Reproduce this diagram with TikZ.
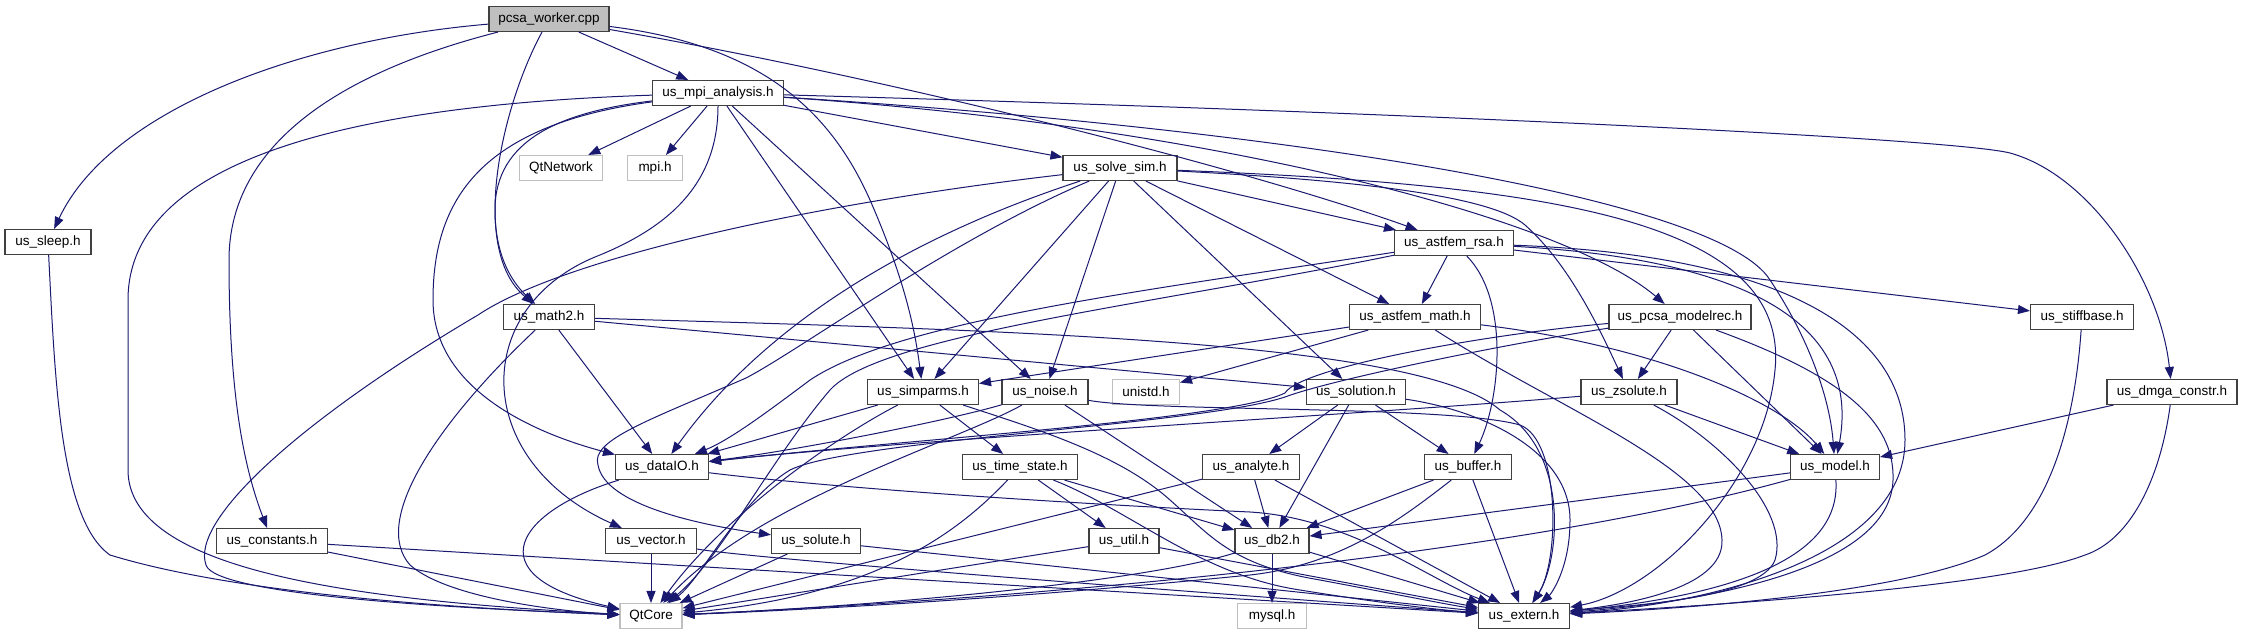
\documentclass[tikz,border=0pt]{standalone}
\usepackage{fontspec}
\setmainfont{Liberation Sans}
\usetikzlibrary{arrows.meta}
\definecolor{edgec}{HTML}{191970}
\definecolor{boxc}{HTML}{404040}
\definecolor{extc}{HTML}{BFBFBF}
\begin{document}
\begin{tikzpicture}[x=1pt,y=-1pt,
  box/.style={draw=boxc, line width=1.1pt, fill=white, rectangle, minimum height=25pt, inner sep=0pt, font=\fontsize{13.5}{15}\selectfont},
  ext/.style={box, draw=extc},
  root/.style={box, fill=extc},
  e/.style={draw=edgec, line width=1pt, -{Triangle[length=12pt,width=9pt]}}]
\path[use as bounding box, fill=white] (0,0) rectangle (2242,635);
% nodes
\node[root, minimum width=120pt] (pcsa) at (549,19) {pcsa\_worker.cpp};
\node[box, minimum width=131pt] (mpi) at (718,93) {us\_mpi\_analysis.h};
\node[ext, minimum width=83pt] (qtnet) at (561,168) {QtNetwork};
\node[ext, minimum width=55pt] (mpih) at (655,168) {mpi.h};
\node[box, minimum width=86pt] (sleep) at (48,242) {us\_sleep.h};
\node[box, minimum width=114pt] (solvesim) at (1120,168) {us\_solve\_sim.h};
\node[box, minimum width=119pt] (astfemrsa) at (1454,243) {us\_astfem\_rsa.h};
\node[box, minimum width=91pt] (math2) at (549,317) {us\_math2.h};
\node[box, minimum width=131pt] (astfemmath) at (1415,317) {us\_astfem\_math.h};
\node[box, minimum width=142pt] (modelrec) at (1680,317) {us\_pcsa\_modelrec.h};
\node[box, minimum width=103pt] (stiffbase) at (2082,317) {us\_stiffbase.h};
\node[box, minimum width=111pt] (simparms) at (923,392) {us\_simparms.h};
\node[box, minimum width=86pt] (noise) at (1045,392) {us\_noise.h};
\node[ext, minimum width=67pt] (unistd) at (1146,392) {unistd.h};
\node[box, minimum width=99pt] (solution) at (1356,392) {us\_solution.h};
\node[box, minimum width=96pt] (zsolute) at (1629,392) {us\_zsolute.h};
\node[box, minimum width=130pt] (dmga) at (2172,392) {us\_dmga\_constr.h};
\node[box, minimum width=93pt] (datalO) at (662,467) {us\_dataIO.h};
\node[box, minimum width=115pt] (timestate) at (1020,467) {us\_time\_state.h};
\node[box, minimum width=97pt] (analyte) at (1251,467) {us\_analyte.h};
\node[box, minimum width=87pt] (buffer) at (1468,467) {us\_buffer.h};
\node[box, minimum width=89pt] (model) at (1835,467) {us\_model.h};
\node[box, minimum width=111pt] (constants) at (272,541) {us\_constants.h};
\node[box, minimum width=91pt] (vector) at (651,541) {us\_vector.h};
\node[box, minimum width=89pt] (solute) at (816,541) {us\_solute.h};
\node[box, minimum width=70pt] (util) at (1124,541) {us\_util.h};
\node[box, minimum width=74pt] (db2) at (1272,541) {us\_db2.h};
\node[ext, minimum width=62pt] (qtcore) at (651,616) {QtCore};
\node[ext, minimum width=69pt] (mysql) at (1272,616) {mysql.h};
\node[box, minimum width=91pt] (extern) at (1524,616) {us\_extern.h};
% pcsa_worker.cpp
\draw[e] (pcsa) -- (mpi);
\draw[e] (pcsa) .. controls (300,40) and (110,110) .. (sleep);
\draw[e] (pcsa) .. controls (330,75) and (229,150) .. (229,260) .. controls (229,400) and (245,470) .. (constants);
\draw[e] (pcsa) .. controls (500,110) and (470,250) .. (math2);
\draw[e] (pcsa) .. controls (760,45) and (830,110) .. (870,200) .. controls (905,280) and (915,330) .. (simparms);
\draw[e] (pcsa) .. controls (900,80) and (1250,170) .. (astfemrsa);
% us_mpi_analysis.h
\draw[e] (mpi) -- (qtnet);
\draw[e] (mpi) -- (mpih);
\draw[e] (mpi) -- (solvesim);
\draw[e] (mpi) .. controls (560,112) and (495,140) .. (495,210) .. controls (495,260) and (515,285) .. (math2);
\draw[e] (mpi) .. controls (350,105) and (128,160) .. (128,300) -- (128,470) .. controls (128,570) and (350,600) .. (qtcore);
\draw[e] (mpi) .. controls (480,125) and (433,200) .. (433,300) .. controls (433,400) and (560,440) .. (datalO);
\draw[e] (mpi) .. controls (718,190) and (660,230) .. (600,255) .. controls (470,305) and (470,460) .. (vector);
\draw[e] (mpi) -- (simparms);
\draw[e] (mpi) -- (noise);
\draw[e] (mpi) .. controls (1200,125) and (1560,215) .. (modelrec);
\draw[e] (mpi) .. controls (1400,112) and (1950,138) .. (2010,153) .. controls (2090,175) and (2160,280) .. (dmga);
\draw[e] (mpi) .. controls (1300,130) and (1720,200) .. (1770,280) .. controls (1810,340) and (1830,400) .. (model);
% us_solve_sim.h
\draw[e] (solvesim) -- (astfemrsa);
\draw[e] (solvesim) -- (astfemmath);
\draw[e] (solvesim) -- (solution);
\draw[e] (solvesim) -- (noise);
\draw[e] (solvesim) -- (simparms);
\draw[e] (solvesim) .. controls (900,240) and (760,330) .. (datalO);
\draw[e] (solvesim) .. controls (800,205) and (560,260) .. (478,315) .. controls (300,420) and (190,520) .. (206,565) .. controls (215,595) and (450,608) .. (qtcore);
\draw[e] (solvesim) .. controls (950,240) and (800,350) .. (746,378) .. controls (650,420) and (590,440) .. (598,465) .. controls (605,505) and (700,525) .. (solute);
\draw[e] (solvesim) .. controls (1350,180) and (1490,195) .. (1525,225) .. controls (1570,265) and (1600,330) .. (zsolute);
\draw[e] (solvesim) .. controls (1550,185) and (1790,220) .. (1775,370) .. controls (1765,480) and (1660,590) .. (extern);
% us_astfem_rsa.h
\draw[e] (astfemrsa) -- (astfemmath);
\draw[e] (astfemrsa) -- (stiffbase);
\draw[e] (astfemrsa) .. controls (1510,300) and (1500,400) .. (buffer);
\draw[e] (astfemrsa) .. controls (1760,260) and (1860,330) .. (model);
\draw[e] (astfemrsa) .. controls (1780,255) and (1905,330) .. (1905,440) .. controls (1905,560) and (1700,605) .. (extern);
\draw[e] (astfemrsa) .. controls (1150,290) and (900,320) .. (810,380) .. controls (770,410) and (730,440) .. (datalO);
\draw[e] (astfemrsa) .. controls (1150,305) and (880,335) .. (830,390) .. controls (770,460) and (720,560) .. (qtcore);
% us_astfem_math.h
\draw[e] (astfemmath) -- (unistd);
\draw[e] (astfemmath) -- (simparms);
\draw[e] (astfemmath) .. controls (1650,345) and (1780,400) .. (model);
\draw[e] (astfemmath) .. controls (1560,410) and (1720,470) .. (1722,540) .. controls (1724,590) and (1620,605) .. (extern);
% us_pcsa_modelrec.h
\draw[e] (modelrec) -- (zsolute);
\draw[e] (modelrec) -- (model);
\draw[e] (modelrec) .. controls (1840,375) and (1895,420) .. (1893,480) .. controls (1890,580) and (1660,605) .. (extern);
\draw[e] (modelrec) .. controls (1480,335) and (1300,368) .. (1285,393) .. controls (1230,420) and (900,440) .. (datalO);
\draw[e] (modelrec) .. controls (1500,345) and (1330,380) .. (1285,397) .. controls (1200,425) and (850,440) .. (790,470) .. controls (740,500) and (700,580) .. (qtcore);
% us_zsolute.h
\draw[e] (zsolute) -- (model);
\draw[e] (zsolute) .. controls (1720,440) and (1790,510) .. (1775,560) .. controls (1760,600) and (1620,606) .. (extern);
\draw[e] (zsolute) .. controls (1400,412) and (900,440) .. (datalO);
% us_dmga_constr.h, us_stiffbase.h
\draw[e] (dmga) -- (model);
\draw[e] (dmga) .. controls (2160,480) and (2130,540) .. (2085,555) .. controls (2000,588) and (1700,606) .. (extern);
\draw[e] (stiffbase) .. controls (2075,420) and (2050,520) .. (1985,555) .. controls (1900,592) and (1700,608) .. (extern);
% us_model.h
\draw[e] (model) -- (db2);
\draw[e] (model) .. controls (1500,560) and (1000,600) .. (qtcore);
\draw[e] (model) .. controls (1840,540) and (1780,590) .. (extern);
% us_math2.h
\draw[e] (math2) -- (datalO);
\draw[e] (math2) .. controls (440,420) and (370,520) .. (410,565) .. controls (450,600) and (570,612) .. (qtcore);
\draw[e] (math2) -- (solution);
\draw[e] (math2) .. controls (1000,330) and (1420,340) .. (1500,410) .. controls (1570,450) and (1560,560) .. (extern);
% us_dataIO.h
\draw[e] (datalO) .. controls (520,510) and (470,575) .. (qtcore);
\draw[e] (datalO) .. controls (850,490) and (1100,505) .. (1250,512) .. controls (1350,518) and (1430,580) .. (extern);
% us_simparms.h
\draw[e] (simparms) -- (datalO);
\draw[e] (simparms) -- (timestate);
\draw[e] (simparms) .. controls (830,440) and (720,520) .. (qtcore);
\draw[e] (simparms) .. controls (1040,430) and (1120,455) .. (1170,500) .. controls (1210,535) and (1230,565) .. (1320,580) .. controls (1400,595) and (1450,605) .. (extern);
% us_noise.h
\draw[e] (noise) .. controls (950,420) and (800,450) .. (datalO);
\draw[e] (noise) -- (db2);
\draw[e] (noise) .. controls (960,440) and (760,500) .. (qtcore);
\draw[e] (noise) .. controls (1150,412) and (1450,405) .. (1520,425) .. controls (1560,440) and (1560,560) .. (extern);
% us_time_state.h
\draw[e] (timestate) -- (util);
\draw[e] (timestate) -- (db2);
\draw[e] (timestate) .. controls (960,530) and (880,595) .. (qtcore);
\draw[e] (timestate) .. controls (1130,510) and (1200,575) .. (1300,590) .. controls (1380,603) and (1440,610) .. (extern);
% us_analyte.h
\draw[e] (analyte) -- (db2);
\draw[e] (analyte) -- (qtcore);
\draw[e] (analyte) -- (extern);
% us_solution.h
\draw[e] (solution) -- (analyte);
\draw[e] (solution) -- (buffer);
\draw[e] (solution) -- (db2);
\draw[e] (solution) .. controls (1480,410) and (1570,450) .. (1570,520) .. controls (1570,570) and (1550,595) .. (extern);
% us_buffer.h
\draw[e] (buffer) -- (db2);
\draw[e] (buffer) .. controls (1400,520) and (1340,565) .. (1250,575) .. controls (1000,600) and (800,610) .. (qtcore);
\draw[e] (buffer) -- (extern);
% bottom row
\draw[e] (util) -- (qtcore);
\draw[e] (util) -- (extern);
\draw[e] (db2) -- (mysql);
\draw[e] (db2) .. controls (1150,580) and (900,605) .. (qtcore);
\draw[e] (db2) -- (extern);
\draw[e] (solute) -- (qtcore);
\draw[e] (solute) -- (extern);
\draw[e] (vector) -- (qtcore);
\draw[e] (vector) .. controls (760,560) and (1300,600) .. (extern);
\draw[e] (constants) -- (qtcore);
\draw[e] (constants) -- (extern);
\draw[e] (sleep) .. controls (55,380) and (60,520) .. (110,555) .. controls (250,598) and (500,610) .. (qtcore);
\end{tikzpicture}
\end{document}
